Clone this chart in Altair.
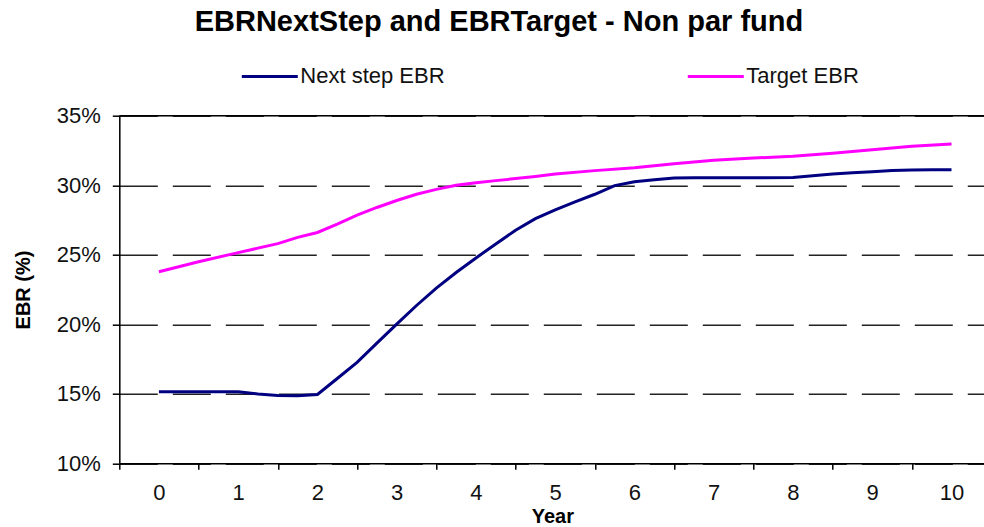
import altair as alt
import pandas as pd

# Series values (EBR, as fractions) by projection year
years_next = [0, 0.5, 1.0, 1.25, 1.5, 1.75, 2.0, 2.25, 2.5, 2.75, 3.0, 3.25, 3.5, 3.75,
              4.0, 4.25, 4.5, 4.75, 5.0, 5.25, 5.5, 5.75, 6.0, 6.25, 6.5, 6.75, 7.0,
              7.5, 8.0, 8.25, 8.5, 8.75, 9.0, 9.25, 9.5, 9.75, 10.0]
next_step = [15.15, 15.15, 15.15, 14.98, 14.88, 14.85, 14.95, 16.1, 17.26, 18.64, 20.01,
             21.35, 22.6, 23.72, 24.77, 25.77, 26.76, 27.6, 28.22, 28.8, 29.35, 29.97,
             30.25, 30.4, 30.52, 30.54, 30.54, 30.54, 30.56, 30.68, 30.8, 30.9, 30.97,
             31.05, 31.1, 31.12, 31.12]

years_target = [0, 0.5, 1.0, 1.5, 1.75, 2.0, 2.25, 2.5, 2.75, 3.0, 3.25, 3.5, 3.75, 4.0,
                4.25, 4.5, 4.75, 5.0, 5.5, 6.0, 6.5, 7.0, 7.5, 8.0, 8.5, 9.0, 9.5, 10.0]
target = [23.78, 24.5, 25.15, 25.8, 26.25, 26.6, 27.2, 27.85, 28.4, 28.9, 29.35, 29.7,
          30.0, 30.17, 30.33, 30.48, 30.63, 30.8, 31.05, 31.25, 31.55, 31.8, 31.95,
          32.08, 32.3, 32.55, 32.8, 32.97]

series_names = ["Next step EBR", "Target EBR"]
series_colors = ["#000080", "#FF00FF"]
year_labels = list(range(11))
y_ticks = [0.10, 0.15, 0.20, 0.25, 0.30, 0.35]

df = pd.concat([
    pd.DataFrame({"year": years_next, "ebr": [v / 100 for v in next_step],
                  "series": series_names[0]}),
    pd.DataFrame({"year": years_target, "ebr": [v / 100 for v in target],
                  "series": series_names[1]}),
])

FONT = "Liberation Sans"
PLOT_W = 864.7
PLOT_H = 347.6

x_scale = alt.Scale(domain=[-0.5, 10.41], nice=False, zero=False)
y_scale = alt.Scale(domain=[y_ticks[0], y_ticks[-1]], nice=False, zero=False)

x_axis = alt.Axis(
    values=[v - 0.5 for v in year_labels],
    labelExpr="format(datum.value + 0.5, 'd')",
    labelOffset=39.6, labelFlush=False, labelOverlap=False,
    labelFont=FONT, labelFontSize=22, labelColor="#111", labelPadding=13,
    tickSize=6, tickColor="black", tickWidth=1.5,
    domainColor="black", domainWidth=1.5, grid=False,
    title="Year", titleFont=FONT, titleFontSize=20, titleFontWeight="bold",
    titleColor="black", titleX=433, titleY=59, titleBaseline="alphabetic",
    titleAlign="center",
)

y_axis = alt.Axis(
    values=y_ticks, format=".0%",
    labelFont=FONT, labelFontSize=22, labelColor="#111", labelPadding=12,
    tickSize=7, tickColor="black", tickWidth=1.5,
    domainColor="black", domainWidth=1.5,
    grid=True, gridColor="#222", gridWidth=1.5, gridDash=[38, 15],
    title="EBR (%)", titleFont=FONT, titleFontSize=20, titleFontWeight="bold",
    titleColor="black", titleX=-96, titleY=PLOT_H / 2, titleAngle=270,
    titleAlign="center", titleBaseline="middle",
)

legend = alt.Legend(
    title=None, orient="none", legendX=121, legendY=-69, direction="horizontal",
    symbolType="stroke", symbolSize=3136, symbolStrokeWidth=3,
    labelFont=FONT, labelFontSize=22, labelColor="#111", labelOffset=1,
    columnPadding=236, padding=0,
)

lines = alt.Chart(df).mark_line(strokeWidth=3, clip=True).encode(
    x=alt.X("year:Q", scale=x_scale, axis=x_axis),
    y=alt.Y("ebr:Q", scale=y_scale, axis=y_axis),
    color=alt.Color("series:N", scale=alt.Scale(domain=series_names, range=series_colors),
                    legend=legend),
    detail="series:N",
)

# solid upper border of the plot area at the top of the value range
top_rule = alt.Chart(pd.DataFrame({"ebr": [y_ticks[-1]]})).mark_rule(
    color="black", strokeWidth=1.5
).encode(y=alt.Y("ebr:Q", scale=y_scale))

chart = alt.layer(top_rule, lines).properties(
    width=PLOT_W, height=PLOT_H,
    title=alt.TitleParams(
        "EBRNextStep and EBRTarget - Non par fund",
        font=FONT, fontSize=29, fontWeight="bold", color="black",
        anchor="middle", dx=-52.7, offset=10,
    ),
    padding={"left": 119.3, "top": 115.7, "right": 0, "bottom": 63.7},
    autosize=alt.AutoSizeParams(type="none"),
).configure_view(stroke=None).configure(background="white")

chart.save("out.html", embed_options={"renderer": "svg", "actions": False})
